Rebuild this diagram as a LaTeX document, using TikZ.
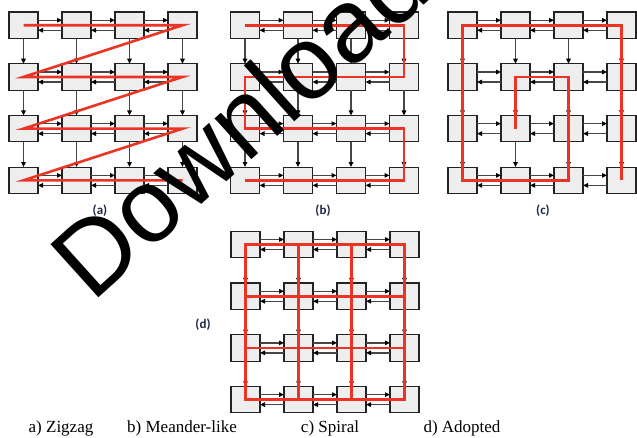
\documentclass[tikz,border=0pt]{standalone}
\usepackage{fontspec}
\setmainfont{Liberation Serif}
\newfontfamily\labfont{Carlito}
\newfontfamily\wmfont{Liberation Sans}
\usetikzlibrary{arrows.meta}
\definecolor{boxfill}{RGB}{238,238,238}
\definecolor{boxline}{RGB}{35,35,35}
\definecolor{arrline}{RGB}{70,70,70}
\definecolor{pathred}{RGB}{234,52,38}
\definecolor{labblue}{RGB}{30,40,75}
\begin{document}
\begin{tikzpicture}[x=1pt,y=-1pt,
  cell/.style={draw=boxline, fill=boxfill, line width=1.1pt, minimum width=29pt, minimum height=26.5pt, inner sep=0pt, outer sep=0pt},
  link/.style={draw=arrline, line width=1.2pt, -{Triangle[length=5pt,width=4.5pt,color=black]}},
  route/.style={draw=pathred, line width=2.6pt, line join=miter},
  sublabel/.style={font=\labfont\bfseries\fontsize{13}{15}\selectfont, text=labblue, inner sep=0pt},
  caption/.style={font=\fontsize{17}{20}\selectfont, anchor=base, inner sep=0pt}
]
\useasboundingbox[fill=white] (0,0) rectangle (637,437);
% boxes
\foreach \p/\ox/\oy in {a/23.5/25.25, b/245/25.25, c/462.5/25.25, d/245.5/244.5} {
  \foreach \r in {1,...,4} {
    \foreach \c in {1,...,4} {
      \node[cell] (\p-\r-\c) at ({\ox+53*(\c-1)},{\oy+51.7*(\r-1)}) {};
    }
  }
}
% connectors
\foreach \p in {a,b,c,d} {
  \foreach \r in {1,...,4} {
    \foreach \c/\n in {1/2,2/3,3/4} {
      \draw[link] ([yshift=5pt]\p-\r-\c.east) -- ([yshift=5pt]\p-\r-\n.west);
      \draw[link] ([yshift=-5pt]\p-\r-\n.west) -- ([yshift=-5pt]\p-\r-\c.east);
    }
  }
  \foreach \r/\n in {1/2,2/3,3/4} {
    \foreach \c in {1,...,4} {
      \draw[link] (\p-\r-\c.south) -- (\p-\n-\c.north);
    }
  }
}
% red routes
\draw[route] (a-1-1.center) -- (a-1-4.center) -- (a-2-1.center) -- (a-2-4.center) -- (a-3-1.center) -- (a-3-4.center) -- (a-4-1.center) -- (a-4-4.center);
\draw[route] (b-1-1.center) -- (b-1-4.center) -- (b-2-4.center) -- (b-2-1.center) -- (b-3-1.center) -- (b-3-4.center) -- (b-4-4.center) -- (b-4-1.center);
\draw[route] (c-4-4.center) -- (c-1-4.center) -- (c-1-1.center) -- (c-4-1.center) -- (c-4-3.center) -- (c-2-3.center) -- (c-2-2.center) -- (c-3-2.center);
\draw[route] (d-1-1.center) rectangle (d-4-4.center);
\draw[route] (d-2-1.center) -- (d-2-4.center);
\draw[route] (d-3-1.center) -- (d-3-4.center);
\draw[route] (d-1-2.center) -- (d-4-2.center);
\draw[route] (d-1-3.center) -- (d-4-3.center);
% sub labels
\node[sublabel] (la) at (100,211) {(a)};
\node[sublabel] (lb) at (323,211) {(b)};
\node[sublabel] (lc) at (543,211) {(c)};
\node[sublabel] (ld) at (203,325) {(d)};
% captions
\node[caption] (ca) at (61,432) {a) Zigzag};
\node[caption] (cb) at (182,432) {b) Meander-like};
\node[caption] (cc) at (330,432) {c) Spiral};
\node[caption] (cd) at (462,432) {d) Adopted};
% watermark
\node[font=\wmfont\fontsize{104}{104}\selectfont, rotate=42, anchor=base west, inner sep=0pt] (wm) at (92,304) {Download};
\end{tikzpicture}
\end{document}
